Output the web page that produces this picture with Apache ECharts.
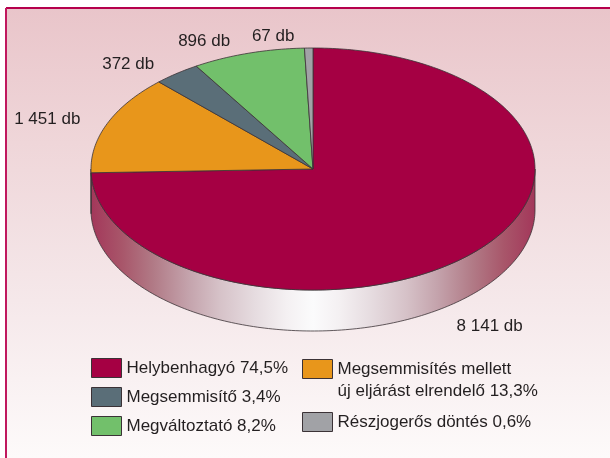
<!DOCTYPE html>
<html>
<head>
<meta charset="utf-8">
<script src="https://cdn.jsdelivr.net/npm/echarts@6/dist/echarts.min.js"></script>
<style>
  html, body { margin: 0; padding: 0; background: #fff; }
  #chart { width: 610px; height: 458px; }
</style>
</head>
<body>
<div id="chart"></div>
<script>
// data, in drawing order (clockwise from 12 o'clock)
const categories = ['Helybenhagyó', 'Megsemmisítés mellett új eljárást elrendelő', 'Megsemmisítő', 'Megváltoztató', 'Részjogerős döntés'];
const counts = [8141, 1451, 372, 896, 67];
const colors = ['#a50043', '#e8961b', '#5a6e78', '#72c06b', '#a1a2a6'];
const leftLegend = ['Helybenhagyó', 'Megsemmisítő', 'Megváltoztató'];
const rightLegend = ['Megsemmisítés mellett új eljárást elrendelő', 'Részjogerős döntés'];

const FONT = '"Liberation Sans", Arial, Helvetica, sans-serif';
const TEXT = '#231f20';
const EDGE = '#3b3236';
const PIE = { cx: 313, cy: 169, rx: 222, ry: 121, depth: 41 };

const total = counts.reduce((a, b) => a + b, 0);
const startAngles = [];
counts.reduce((acc, v, i) => { startAngles[i] = acc; return acc + v / total * 360; }, 0);

const fmtCount = n => String(n).replace(/\B(?=(\d{3})+(?!\d))/g, ' ') + ' db';
const fmtPct = n => (n / total * 100).toFixed(1).replace('.', ',') + '%';

// two-line entry gets an empty first line so its first line sits level with the box
function legendText(name) {
  const v = counts[categories.indexOf(name)];
  const txt = name + ' ' + fmtPct(v);
  return txt.indexOf(' új ') > 0 ? '\n' + txt.replace(' új ', '\núj ') : txt;
}

// shading of the front wall, light in the middle
const wallFill = {
  type: 'linear', global: true,
  x: PIE.cx - PIE.rx, y: 0, x2: PIE.cx + PIE.rx, y2: 0,
  colorStops: [
    { offset: 0, color: '#a3375a' },
    { offset: 0.07, color: '#a8566a' },
    { offset: 0.14, color: '#b17a86' },
    { offset: 0.22, color: '#c4a3ac' },
    { offset: 0.29, color: '#d6c2c8' },
    { offset: 0.37, color: '#e6dce0' },
    { offset: 0.44, color: '#f4f0f2' },
    { offset: 0.5, color: '#fbfbfc' },
    { offset: 0.56, color: '#f4f0f2' },
    { offset: 0.63, color: '#e6dce0' },
    { offset: 0.71, color: '#d6c2c8' },
    { offset: 0.78, color: '#c4a3ac' },
    { offset: 0.86, color: '#b17a86' },
    { offset: 0.93, color: '#a8566a' },
    { offset: 1, color: '#a3375a' }
  ]
};

function point(deg, dy) {
  const r = deg * Math.PI / 180;
  return [PIE.cx + PIE.rx * Math.sin(r), PIE.cy - PIE.ry * Math.cos(r) + (dy || 0)];
}

function arc(a0, a1, dy) {
  const pts = [];
  const n = Math.max(2, Math.ceil(Math.abs(a1 - a0)));
  for (let k = 0; k <= n; k++) pts.push(point(a0 + (a1 - a0) * k / n, dy));
  return pts;
}

function renderSlice(i) {
  return function (params, api) {
    const value = api.value(0);
    const a0 = startAngles[i];
    const a1 = a0 + value / total * 360;
    const children = [];

    // visible part of the side wall (front half only)
    const lo = Math.max(a0, 90), hi = Math.min(a1, 270);
    if (hi > lo) {
      children.push({
        type: 'polygon',
        shape: { points: arc(lo, hi, 0).concat(arc(hi, lo, PIE.depth)) },
        style: { fill: wallFill, stroke: EDGE, lineWidth: 0.8 }
      });
    }
    children.push({
      type: 'polygon',
      shape: { points: [[PIE.cx, PIE.cy]].concat(arc(a0, a1, 0)) },
      style: { fill: colors[i], stroke: EDGE, lineWidth: 0.8 }
    });

    const mid = (a0 + a1) / 2 * Math.PI / 180;
    const s = Math.sin(mid), c = Math.cos(mid);
    let x, y, align;
    if (c < 0) {
      x = PIE.cx + (PIE.rx + 24) * s;
      y = PIE.cy - (PIE.ry + 20) * c + PIE.depth + 18;
      align = 'center';
    } else {
      x = PIE.cx + (PIE.rx + 14) * s + (s < 0 ? -14 : 14);
      y = PIE.cy - (PIE.ry + 12) * c;
      align = s < 0 ? 'right' : 'left';
    }
    children.push({
      type: 'text',
      style: {
        text: fmtCount(value), x: x, y: y, align: align, verticalAlign: 'middle',
        fontSize: 17, fontFamily: FONT, fill: TEXT
      }
    });
    return { type: 'group', children: children };
  };
}

const legendBase = {
  orient: 'vertical',
  padding: 0,
  itemWidth: 30,
  itemHeight: 19,
  icon: 'rect',
  selectedMode: false,
  itemStyle: { borderColor: EDGE, borderWidth: 1 },
  textStyle: { fontSize: 17, fontFamily: FONT, color: TEXT, lineHeight: 22 },
  formatter: legendText
};

const chart = echarts.init(document.getElementById('chart'));
chart.setOption({
  animation: false,
  graphic: [
    {
      type: 'rect', z: -10,
      shape: { x: 6, y: 8, width: 604, height: 450 },
      style: {
        fill: {
          type: 'linear', x: 0, y: 0, x2: 0, y2: 1,
          colorStops: [
            { offset: 0, color: '#e9c5ca' },
            { offset: 0.3, color: '#efd6d9' },
            { offset: 0.65, color: '#f5e8ea' },
            { offset: 1, color: '#fdfafa' }
          ]
        }
      }
    },
    { type: 'line', shape: { x1: 6, y1: 8, x2: 610, y2: 8 }, style: { stroke: '#b5004c', lineWidth: 2 } },
    { type: 'line', shape: { x1: 6, y1: 8, x2: 6, y2: 458 }, style: { stroke: '#c0185e', lineWidth: 2 } }
  ],
  legend: [
    Object.assign({}, legendBase, { data: leftLegend, left: 91, top: 357, itemGap: 7 }),
    Object.assign({}, legendBase, { data: rightLegend, left: 302, top: 336, itemGap: 9 })
  ],
  series: categories.map((name, i) => ({
    type: 'custom',
    name: name,
    coordinateSystem: 'none',
    itemStyle: { color: colors[i] },
    data: [[counts[i]]],
    renderItem: renderSlice(i)
  }))
});
</script>
</body>
</html>
